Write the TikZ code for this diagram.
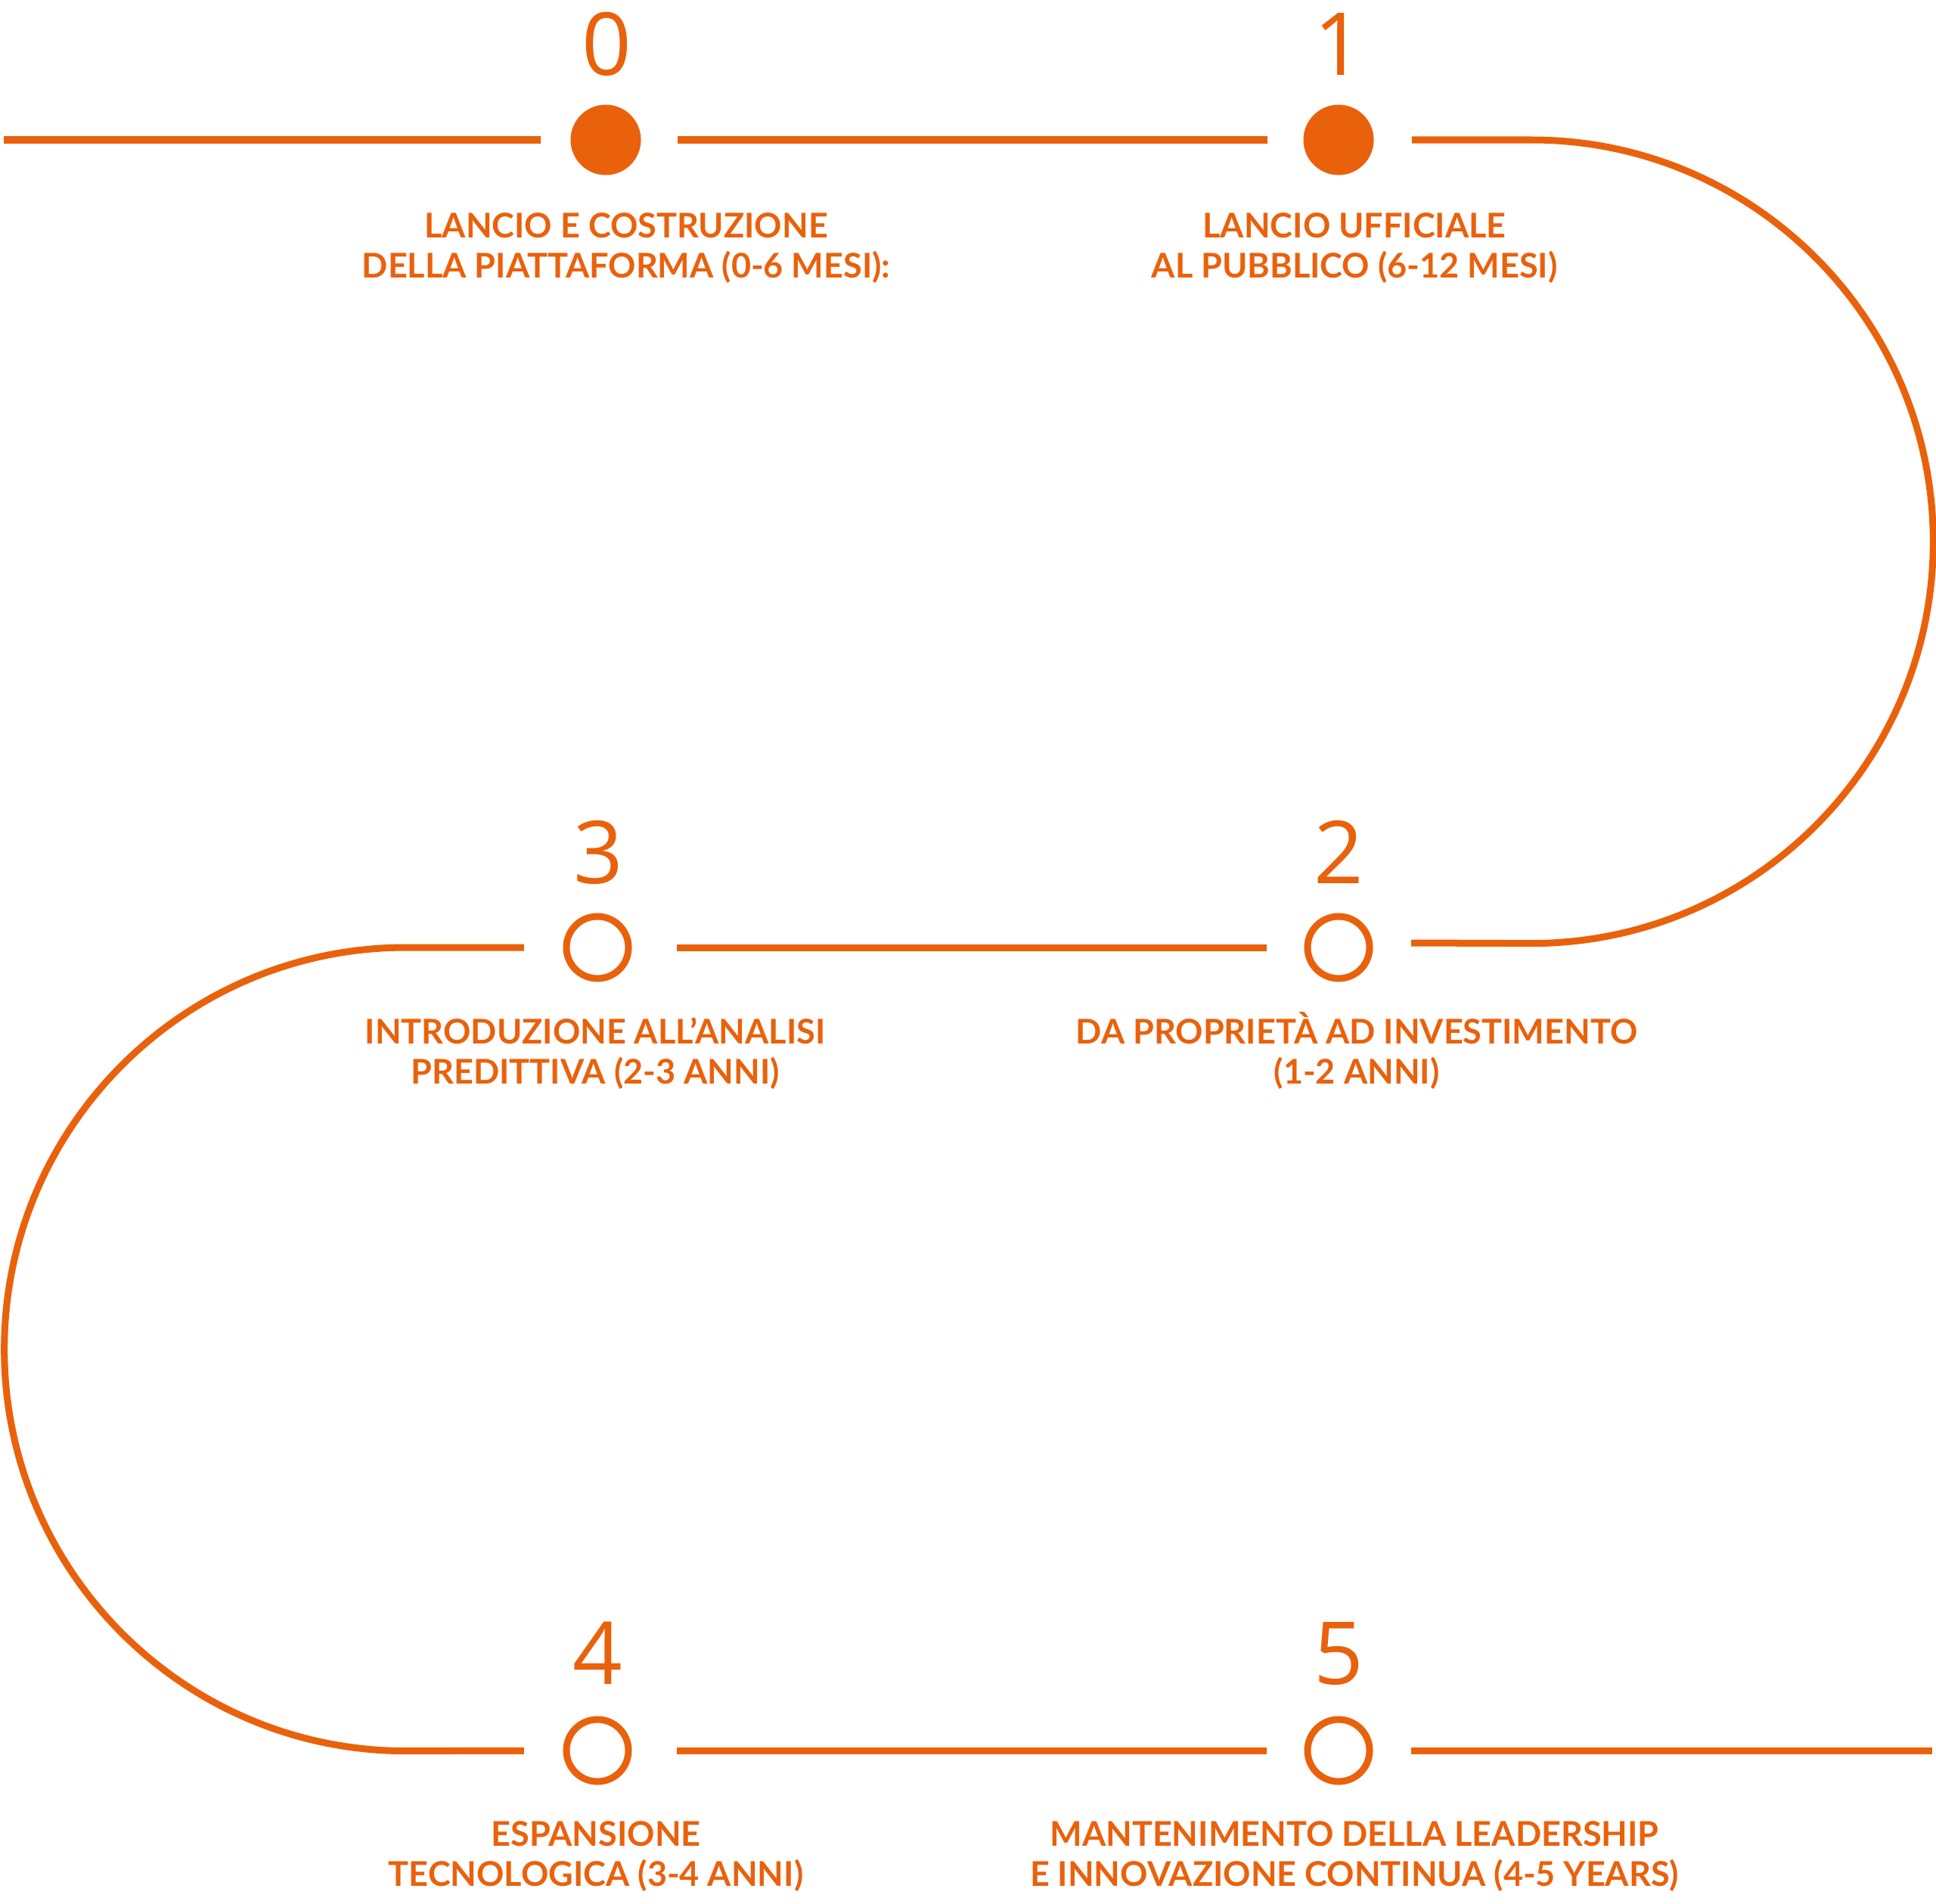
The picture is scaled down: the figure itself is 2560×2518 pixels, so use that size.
\documentclass[tikz,border=0pt]{standalone}
\usepackage{fontspec}
\setmainfont{Lato}
\newfontfamily\digitfont{Open Sans}
\definecolor{ora}{RGB}{234,97,12}
\begin{document}
\begin{tikzpicture}[x=0.01cm,y=-0.01cm,
  track/.style={draw=ora,line width=0.09cm},
  full/.style={circle,fill=ora,minimum size=0.93cm,inner sep=0pt},
  hollow/.style={circle,draw=ora,line width=0.09cm,minimum size=0.82cm,inner sep=0pt},
  num/.style={text=ora,font=\digitfont\fontsize{32.7}{36}\selectfont,anchor=base,inner sep=0pt},
  lab/.style={text=ora,font=\bfseries\fontsize{12.8}{14.9}\selectfont,align=center,anchor=base,inner sep=0pt}]
\useasboundingbox (0,0) rectangle (2560,2518);
% stations
\node[full] (c0) at (801,185) {};
\node[full] (c1) at (1770,185) {};
\node[hollow] (c2) at (1770,1253) {};
\node[hollow] (c3) at (790,1253) {};
\node[hollow] (c4) at (790,2315) {};
\node[hollow] (c5) at (1770,2315) {};
% numbers
\node[num] (n0) at (802,100) {0};
\node[num] (n1) at (1770,100) {1};
\node[num] (n2) at (1770,1168) {2};
\node[num] (n3) at (791,1168) {3};
\node[num] (n4) at (790,2227) {4};
\node[num] (n5) at (1770,2227) {5};
% labels (anchor = baseline of last line)
\node[lab] (t0) at (828,367) {LANCIO E COSTRUZIONE\\DELLA PIATTAFORMA (0-6 MESI):};
\node[lab] (t1) at (1791,367) {LANCIO UFFICIALE\\AL PUBBLICO (6-12 MESI)};
\node[lab] (t3) at (787,1433) {INTRODUZIONE ALL’ANALISI\\PREDITTIVA (2-3 ANNI)};
\node[lab] (t2) at (1794,1433) {DA PROPRIETÀ AD INVESTIMENTO\\(1-2 ANNI)};
\node[lab] (t4) at (788,2494) {ESPANSIONE\\TECNOLOGICA (3-4 ANNI)};
\node[lab] (t5) at (1791,2494) {MANTENIMENTO DELLA LEADERSHIP\\E INNOVAZIONE CONTINUA (4-5 YEARS)};
% track
\coordinate (s0) at (5,185);
\coordinate (r2) at (1866,1247);
\coordinate (e5) at (2555,2315);
\draw[track,shorten >=0.385cm] (s0) -- (c0);
\draw[track,shorten <=0.475cm,shorten >=0.465cm] (c0) -- (c1);
\draw[track,shorten <=0.495cm] (c1) -- (2025,185) arc[start angle=90,end angle=-90,radius=5.31cm] -- (r2);
\draw[track,shorten <=0.495cm,shorten >=0.595cm] (c2) -- (c3);
\draw[track,shorten <=0.515cm,shorten >=0.515cm] (c3) -- (537,1253) arc[start angle=90,end angle=270,radius=5.31cm] -- (c4);
\draw[track,shorten <=0.595cm,shorten >=0.495cm] (c4) -- (c5);
\draw[track,shorten <=0.505cm] (c5) -- (e5);
\end{tikzpicture}
\end{document}
